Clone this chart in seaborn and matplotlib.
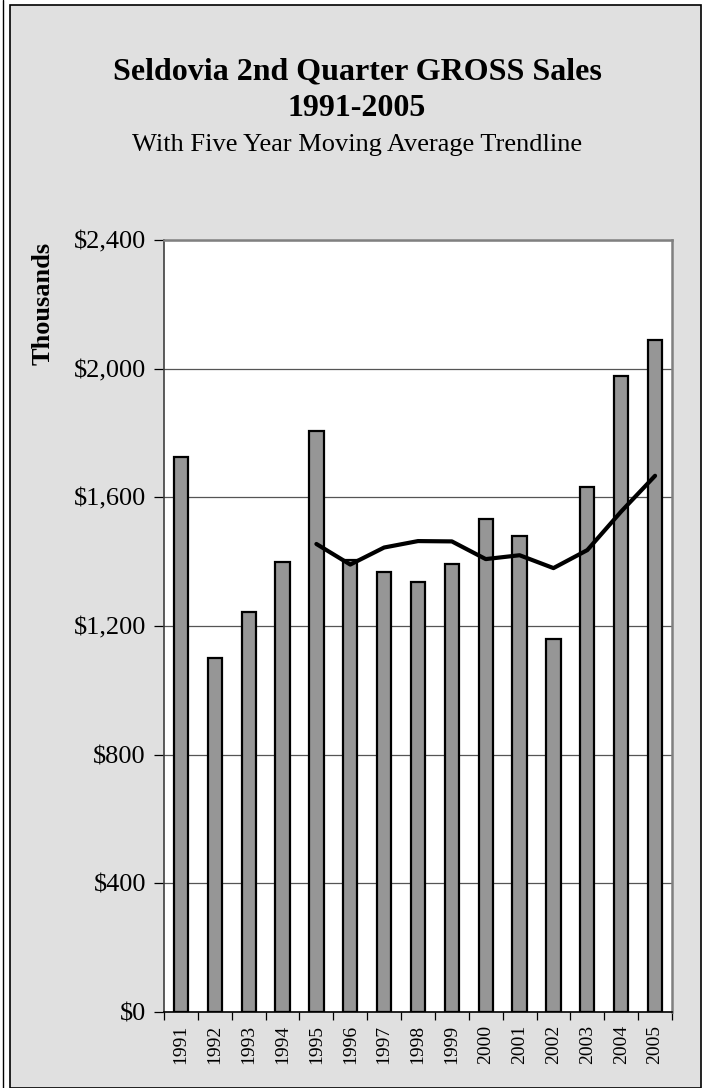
import matplotlib
matplotlib.use("Agg")
import matplotlib.pyplot as plt
import seaborn as sns
import numpy as np
import pandas as pd
from matplotlib.patches import Rectangle
from matplotlib.lines import Line2D
from matplotlib.ticker import FuncFormatter, MultipleLocator

years = [1991, 1992, 1993, 1994, 1995, 1996, 1997, 1998, 1999, 2000, 2001, 2002, 2003, 2004, 2005]
sales = [1725, 1100, 1243, 1399, 1806, 1405, 1367, 1336, 1393, 1532, 1479, 1159, 1632, 1977, 2089]
ma_years = [1995, 1996, 1997, 1998, 1999, 2000, 2001, 2002, 2003, 2004, 2005]
ma_values = [1455, 1391, 1444, 1464, 1463, 1408, 1420, 1380, 1436, 1556, 1667]

title = "Seldovia 2nd Quarter GROSS Sales"
title2 = "1991-2005"
subtitle = "With Five Year Moving Average Trendline"
ylabel = "Thousands"

sns.set_theme(style="white")
plt.rcParams['font.family'] = ['Liberation Serif', 'DejaVu Serif']
plt.rcParams['text.color'] = 'black'
plt.rcParams['xtick.color'] = 'black'
plt.rcParams['ytick.color'] = 'black'
plt.rcParams['axes.labelcolor'] = 'black'

W, H = 704, 1088
fig = plt.figure(figsize=(W / 100, H / 100), dpi=100, facecolor="white")

# chart frame
fig.patches.append(Rectangle((10 / W, 0), (701 - 10) / W, (H - 5) / H, transform=fig.transFigure,
                             facecolor="#E0E0E0", edgecolor="black", linewidth=1.2, zorder=-5))
fig.lines.append(Line2D([3 / W, 3 / W], [0, 1], transform=fig.transFigure, color="black",
                        linewidth=1.0, zorder=-5))

ax = fig.add_axes([164 / W, 1 - 1012 / H, (672 - 164) / W, (1012 - 240) / H])
ax.set_facecolor("white")

df = pd.DataFrame({"year": years, "sales": sales})
sns.barplot(data=df, x="year", y="sales", native_scale=True, color="#969696", saturation=1,
            edgecolor="black", linewidth=1.6, width=0.42, ax=ax, zorder=3)
dma = pd.DataFrame({"year": ma_years, "ma": ma_values})
sns.lineplot(data=dma, x="year", y="ma", color="black", linewidth=3.0, ax=ax, zorder=4)

ax.set_xlim(years[0] - 0.5, years[-1] + 0.5)
ax.set_ylim(0, 2400)
ax.yaxis.set_major_locator(MultipleLocator(400))
ax.yaxis.set_major_formatter(FuncFormatter(lambda v, p: "${:,.0f}".format(v)))
ax.grid(axis="y", color="#555555", linewidth=0.9, zorder=1)
ax.set_axisbelow(True)

ax.set_xticks(years)
ax.set_xticklabels([str(y) for y in years], rotation=90, fontsize=14)
ax.set_xticks([y - 0.5 for y in years] + [years[-1] + 0.5], minor=True)
ax.tick_params(axis="x", which="major", length=0, pad=9)
ax.tick_params(axis="x", which="minor", length=6, width=0.9, color="black", direction="out", bottom=True)
ax.tick_params(axis="y", which="major", length=7, width=0.9, color="black", direction="out", left=True,
               labelsize=19, pad=6)

ax.set_xlabel("")
ax.set_ylabel(ylabel, fontsize=19, fontweight="bold")
ax.yaxis.set_label_coords(-0.215, 0.918)

for s in ["top", "right"]:
    ax.spines[s].set_color("#808080")
    ax.spines[s].set_linewidth(1.8)
ax.spines["left"].set_color("#404040")
ax.spines["left"].set_linewidth(1.2)
ax.spines["bottom"].set_color("black")
ax.spines["bottom"].set_linewidth(1.2)

cx = 357 / W
fig.text(cx, 1 - 72 / H, title, ha="center", va="center", fontsize=23, fontweight="bold")
fig.text(cx, 1 - 108 / H, title2, ha="center", va="center", fontsize=23, fontweight="bold")
fig.text(cx, 1 - 145 / H, subtitle, ha="center", va="center", fontsize=19)

fig.savefig("out.png", dpi=100, facecolor=fig.get_facecolor())
